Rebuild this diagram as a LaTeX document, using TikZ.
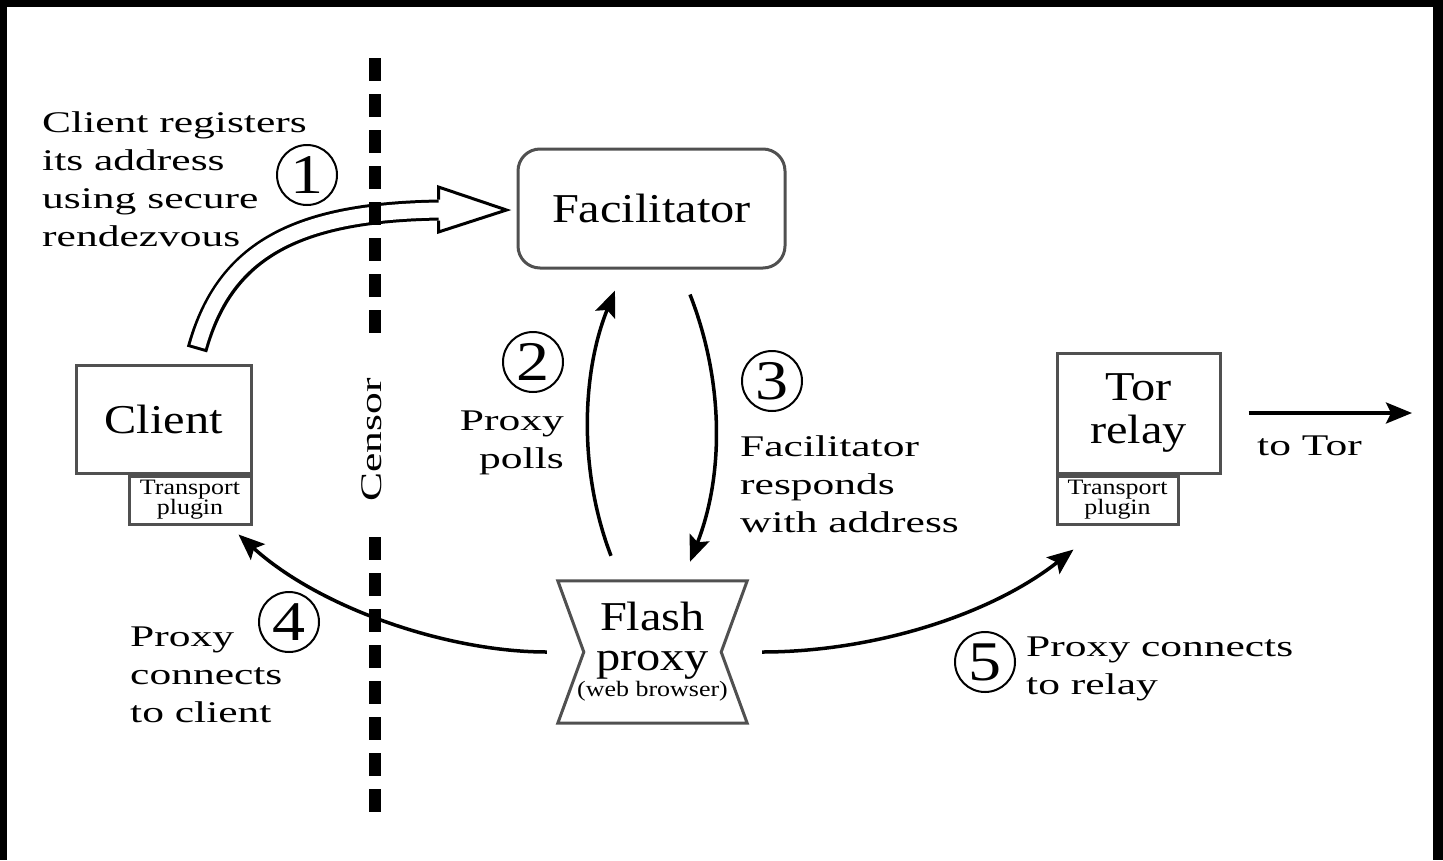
\documentclass[tikz,border=0pt]{standalone}
\usepackage{fontspec}
\setmainfont{Liberation Serif}
\newfontfamily\labfont{Liberation Serif}[FakeStretch=1.45]
\newfontfamily\boxfont{Liberation Serif}[FakeStretch=1.18]
\usetikzlibrary{arrows.meta}
\definecolor{boxgray}{RGB}{80,80,80}
\tikzset{
  lab/.style={font=\labfont\fontsize{30}{38}\selectfont, inner sep=0pt, align=left},
  boxtxt/.style={font=\boxfont\fontsize{41}{43}\selectfont, align=center},
  smalltxt/.style={font=\boxfont\fontsize{22}{20}\selectfont, align=center},
  num/.style={circle, draw, line width=2pt, minimum size=60pt, inner sep=0pt,
              font=\boxfont\fontsize{56}{56}\selectfont},
  gbox/.style={draw=boxgray, line width=3pt, inner sep=0pt},
  arr/.style={line width=3.5pt, -{Stealth[length=26pt,width=21pt,inset=5pt]}},
  censorline/.style={line width=12pt, dash pattern=on 23pt off 13pt},
}
\begin{document}
\begin{tikzpicture}[x=1pt,y=-1pt]
\useasboundingbox (0,0) rectangle (1443,860);
\fill[black] (0,0) rectangle (1443,860);
\fill[white] (7,7) rectangle (1433,860);

% boxes
\node[gbox, boxtxt, rounded corners=22pt, minimum width=267pt, minimum height=119pt] (fac) at (651.5,208.5) {Facilitator};
\node[gbox, boxtxt, minimum width=175pt, minimum height=108pt] (cl) at (163.5,419) {Client};
\node[gbox, smalltxt, minimum width=122pt, minimum height=48pt, anchor=north east] (cp) at (cl.south east) {Transport\\plugin};
\node[gbox, boxtxt, minimum width=163pt, minimum height=120pt] (tor) at (1138.5,413) {Tor\\relay};
\node[gbox, smalltxt, minimum width=121pt, minimum height=48pt, anchor=north west] (tp) at (tor.south west) {Transport\\plugin};

% flash proxy
\node[minimum width=189pt, minimum height=142pt, inner sep=0pt] (fl) at (652.5,652) {};
\draw[draw=boxgray, line width=3pt, line join=miter]
  (fl.north west) -- (fl.north east) -- ([shift={(-26,0)}]fl.east) -- (fl.south east)
  -- (fl.south west) -- ([shift={(26,0)}]fl.west) -- cycle;
\node[boxtxt, inner sep=0pt, anchor=north, font=\boxfont\fontsize{41}{40}\selectfont] (flt) at (652.5,602) {Flash\\proxy};
\node[smalltxt, inner sep=0pt, anchor=base] (flw) at (652.5,696) {(web browser)};

% hollow arrow (1)
\coordinate (ht) at ([shift={(33.5,-14)}]cl.north);
\coordinate (hb) at ([shift={(-76,1.5)}]fac.west);
\coordinate (hp) at ([shift={(-10,1.5)}]fac.west);
\draw[line width=21pt] (ht) .. controls +(28,-101) and +(-142,2) .. (hb);
\draw[white, line width=15pt, shorten <=3pt] (ht) .. controls +(28,-101) and +(-142,2) .. (hb);
\fill[white] ([shift={(-2,-23)}]hb) -- (hp) -- ([shift={(-2,22)}]hb) -- cycle;
\draw[line width=3pt, line join=miter] ([shift={(-2,-10.5)}]hb) -- ([shift={(-2,-23)}]hb) -- (hp)
  -- ([shift={(-2,22)}]hb) -- ([shift={(-2,10.5)}]hb);

% censor
\coordinate (c1) at (375,58); \coordinate (c2) at (375,333);
\coordinate (c3) at (375,537); \coordinate (c4) at (375,812);
\draw[censorline] (c1) -- (c2);
\draw[censorline] (c3) -- (c4);
\node[lab, rotate=90] (cen) at (372,440) {Censor};

% arrows
\draw[arr] ([shift={(-41.5,-25)}]fl.north) .. controls +(-33,-86) and +(-33,81) .. ([shift={(-36.5,21)}]fac.south);
\draw[arr] ([shift={(38.5,25)}]fac.south) .. controls +(34,87) and +(34,-87) .. ([shift={(37.5,-19)}]fl.north);
\draw[arr] ([shift={(-11,0)}]fl.west) .. controls +(-97,0) and +(83,75) .. ([shift={(-14,9)}]cp.south east);
\draw[arr] ([shift={(15,0)}]fl.east) .. controls +(108,0) and +(-85,67) .. ([shift={(18,24)}]tp.south west);
\coordinate (torout) at (1412,413);
\draw[arr] ([shift={(27,0)}]tor.east) -- (torout);

% labels
\node[lab, anchor=north west] (l1) at (42,111) {Client registers\\its address\\using secure\\rendezvous};
\node[lab, anchor=north east, align=right] (l2) at (564,411) {Proxy\\polls};
\node[lab, anchor=north west] (l3) at (740,435) {Facilitator\\responds\\with address};
\node[lab, anchor=north west] (l4) at (130,627) {Proxy\\connects\\to client};
\node[lab, anchor=north west] (l5) at (1026,637) {Proxy connects\\to relay};
\node[lab, anchor=base west] (l6) at (1257,455) {to Tor};

% step numbers
\node[num] (n1) at (307,175) {1};
\node[num] (n2) at (533,362) {2};
\node[num] (n3) at (772,381) {3};
\node[num] (n4) at (289,622) {4};
\node[num] (n5) at (985,662) {5};
\end{tikzpicture}
\end{document}
